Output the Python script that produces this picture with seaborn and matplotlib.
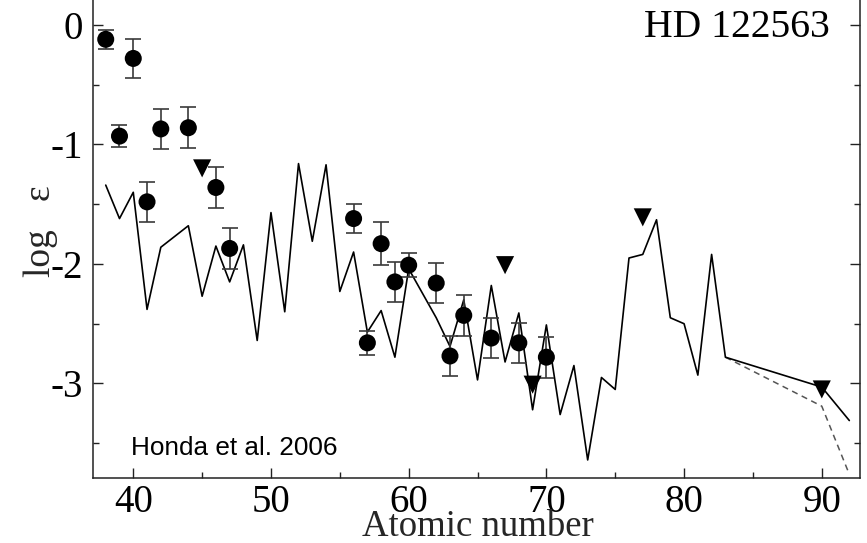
import numpy as np
import pandas as pd
import matplotlib
matplotlib.use("Agg")
import matplotlib.pyplot as plt
import seaborn as sns
from matplotlib.ticker import MultipleLocator

# ---- data -------------------------------------------------------------
obs_z = [38, 39, 40, 41, 42, 44, 46, 47, 56, 57, 58, 59, 60, 62, 63, 64, 66, 68, 70]
obs_y = [-0.12, -0.93, -0.28, -1.48, -0.87, -0.86, -1.36, -1.87, -1.62, -2.66,
         -1.83, -2.15, -2.01, -2.16, -2.77, -2.43, -2.62, -2.66, -2.78]
obs_err = [0.08, 0.09, 0.16, 0.17, 0.17, 0.17, 0.17, 0.17, 0.12, 0.10,
           0.18, 0.17, 0.10, 0.17, 0.17, 0.17, 0.17, 0.17, 0.17]

lim_z = [45, 67, 69, 77, 90]
lim_y = [-1.20, -2.01, -3.01, -1.61, -3.05]

model_z = [38, 39, 40, 41, 42, 44, 45, 46, 47, 48, 49, 50, 51, 52, 53, 54, 55, 56,
           57, 58, 59, 60, 62, 63, 64, 65, 66, 67, 68, 69, 70, 71, 72, 73, 74, 75,
           76, 77, 78, 79, 80, 81, 82, 83, 90, 92]
model_y = [-1.34, -1.62, -1.40, -2.38, -1.86, -1.68, -2.27, -1.85, -2.15, -1.84,
           -2.64, -1.57, -2.40, -1.16, -1.81, -1.17, -2.23, -1.90, -2.57, -2.39,
           -2.78, -2.04, -2.45, -2.69, -2.30, -2.97, -2.18, -2.82, -2.41, -3.22,
           -2.51, -3.26, -2.85, -3.64, -2.95, -3.05, -1.95, -1.92, -1.63, -2.45,
           -2.50, -2.93, -1.92, -2.78, -3.03, -3.31]

decay_z = [83, 90, 92]
decay_y = [-2.78, -3.19, -3.76]

x_ticks = [40, 50, 60, 70, 80, 90]
y_ticks = [0, -1, -2, -3]
y_tick_labels = ["0", "-1", "-2", "-3"]

# ---- style ------------------------------------------------------------
sns.set_theme(style="ticks")
plt.rcParams["font.family"] = ["Liberation Serif", "DejaVu Serif"]
plt.rcParams["axes.unicode_minus"] = False

fig = plt.figure(figsize=(8.67, 5.43), dpi=100)
ax = fig.add_axes([0.1067, 0.1197, 0.8853, 0.8803])
ax.set_facecolor("white")
fig.patch.set_facecolor("white")

model_df = pd.DataFrame({"Z": model_z, "logeps": model_y})
decay_df = pd.DataFrame({"Z": decay_z, "logeps": decay_y})
obs_df = pd.DataFrame({"Z": obs_z, "logeps": obs_y, "err": obs_err})
lim_df = pd.DataFrame({"Z": lim_z, "logeps": lim_y})

sns.lineplot(data=decay_df, x="Z", y="logeps", sort=False, estimator=None,
             color="#555555", lw=1.1, ax=ax, zorder=2)
ax.lines[-1].set_dashes([4, 3])
sns.lineplot(data=model_df, x="Z", y="logeps", sort=False, estimator=None,
             color="black", lw=1.2, ax=ax, zorder=3)

ax.errorbar(obs_df["Z"], obs_df["logeps"], yerr=obs_df["err"], fmt="none",
            ecolor="#3a3a3a", elinewidth=1.2, capsize=6, capthick=1.2, zorder=4)
sns.scatterplot(data=obs_df, x="Z", y="logeps", marker="o", s=150, color="black",
                edgecolor="none", ax=ax, zorder=5)
sns.scatterplot(data=lim_df, x="Z", y="logeps", marker="v", s=170, color="black",
                edgecolor="none", ax=ax, zorder=5)

ax.set_xlim(37.04, 92.78)
ax.set_ylim(-3.791, 0.209)

ax.set_xticks(x_ticks)
ax.set_yticks(y_ticks)
ax.set_yticklabels(y_tick_labels)
ax.xaxis.set_minor_locator(MultipleLocator(5))
ax.yaxis.set_minor_locator(MultipleLocator(0.5))

ax.tick_params(axis="both", which="major", direction="in", length=7.5, width=1.0,
               labelsize=28, color="#222222", labelcolor="black")
ax.tick_params(axis="both", which="minor", direction="in", length=4, width=1.0,
               color="#222222")
ax.tick_params(axis="y", which="both", right=True, left=True)
ax.tick_params(axis="x", which="both", top=False)
ax.tick_params(axis="y", which="major", pad=7)
ax.tick_params(axis="x", which="major", pad=4)

for side in ["left", "right", "bottom"]:
    ax.spines[side].set_linewidth(1.1)
    ax.spines[side].set_color("#222222")
ax.spines["top"].set_visible(False)

ax.set_xlabel("Atomic number", fontsize=26.5)
ax.xaxis.label.set_verticalalignment("baseline")
ax.xaxis.set_label_coords(0.502, (478 - 536) / 478)

ax.set_ylabel("log   \u03b5", fontsize=27)
ax.yaxis.set_label_coords(-0.045, 0.517)

ax.text(0.957, 0.932, "HD 122563", transform=fig.transFigure, ha="right",
        va="baseline", fontsize=28.5, color="black")
ax.text(131 / 867, 1 - 455 / 543, "Honda et al. 2006", transform=fig.transFigure,
        ha="left", va="baseline", fontsize=18.8, color="black",
        family=["Liberation Sans", "DejaVu Sans"])

fig.savefig("out.png", dpi=100, facecolor="white")
